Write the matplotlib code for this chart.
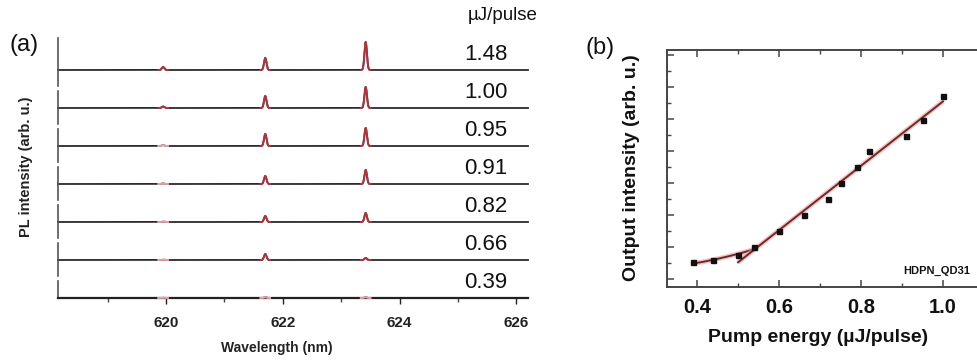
import numpy as np
import matplotlib
matplotlib.use("Agg")
import matplotlib.pyplot as plt
from matplotlib.ticker import MultipleLocator, NullFormatter

plt.rcParams['font.family'] = ['Liberation Sans', 'DejaVu Sans']

# ---------------- data ----------------
# (a) lasing spectra at several pump energies (top to bottom)
pump_labels = ["1.48", "1.00", "0.95", "0.91", "0.82", "0.66", "0.39"]
peak_positions = [619.95, 621.70, 623.42]          # nm
peak_heights = [                                    # arb. u., one row per spectrum
    [3.0, 12.0, 28.0],
    [1.5, 12.0, 21.0],
    [1.0, 12.0, 18.0],
    [0.6, 8.0, 14.0],
    [0.4, 6.0, 9.0],
    [0.3, 6.0, 2.0],
    [0.2, 0.8, 0.8],
]
peak_width = 0.021                                  # nm (gaussian sigma)
wl_ticks = [620, 622, 624, 626]

# (b) output intensity versus pump energy
pump_energy = [0.39, 0.44, 0.50, 0.54, 0.60, 0.66, 0.72, 0.75, 0.79, 0.82, 0.91, 0.95, 1.00]
output_int = [0.52, 0.60, 0.75, 1.01, 1.51, 1.99, 2.50, 2.99, 3.49, 3.99, 4.48, 4.98, 5.73]
# fits: below threshold (spontaneous) and above threshold (lasing)
below_fit_x = [0.39, 0.42, 0.45, 0.48, 0.51, 0.54]
below_fit_y = [0.48, 0.55, 0.63, 0.72, 0.82, 0.93]
above_fit_x = [0.50, 1.00]
above_fit_y = [0.52, 5.55]

# ---------------- figure ----------------
W, H = 978, 360
fig = plt.figure(figsize=(W / 100, H / 100), dpi=100)


def fy(py):
    return 1 - py / H


# panel (a): stacked strips
xa0, xa1 = 58, 528
wl_min, wl_max = 618.15, 626.2
baselines = [70 + 38 * k for k in range(7)]
wl = np.linspace(wl_min, wl_max, 8000)
trace_col = '#2b2b2b'
peak_col = '#b0323c'

for k, (lab, hts) in enumerate(zip(pump_labels, peak_heights)):
    b = baselines[k]
    top = 38 if k == 0 else b - 17
    bot = b if k == 6 else b + 16
    ax = fig.add_axes([xa0 / W, fy(bot), (xa1 - xa0) / W, (bot - top) / H])
    ax.set_xlim(wl_min, wl_max)
    ax.set_ylim(-(bot - b), b - top)
    spec = np.zeros_like(wl)
    for p, h in zip(peak_positions, hts):
        spec += h * np.exp(-0.5 * ((wl - p) / peak_width) ** 2)
    ax.plot(wl, spec, color=trace_col, lw=1.3, clip_on=False, zorder=2)
    for p, h in zip(peak_positions, hts):
        m = np.abs(wl - p) < 4 * peak_width
        col = peak_col if h >= 1.5 else '#e8a0a6'
        ax.plot(wl[m], spec[m], color=col, lw=1.4, clip_on=False, zorder=3)
    for s in ('top', 'right'):
        ax.spines[s].set_visible(False)
    ax.spines['left'].set_color('#555555')
    ax.spines['left'].set_linewidth(1.2)
    ax.set_yticks([])
    ax.patch.set_alpha(0)
    if k < 6:
        ax.spines['bottom'].set_visible(False)
        ax.set_xticks([])
    else:
        ax.spines['bottom'].set_linewidth(1.6)
        ax.spines['bottom'].set_color('#222222')
        ax.set_xticks(wl_ticks)
        ax.xaxis.set_minor_locator(MultipleLocator(1))
        ax.tick_params(axis='x', which='major', direction='out', length=4,
                       width=1.0, labelsize=11, pad=9, colors='#222222')
        ax.tick_params(axis='x', which='minor', direction='out', length=3, width=1.0,
                       colors='#444444')
        for t in ax.get_xticklabels():
            t.set_fontweight('bold')
    fig.text(486 / W, fy(b - 15), lab, ha='center', va='center', fontsize=16,
             color='#111111')

fig.text(503 / W, fy(15), "\u00b5J/pulse", ha='center', va='center', fontsize=13.5,
         color='#111111')
fig.text(24 / W, fy(45), "(a)", ha='center', va='center', fontsize=17, color='#111111')
fig.text(26 / W, fy(167), "PL intensity (arb. u.)", rotation=90, ha='center',
         va='center', fontsize=10.5, fontweight='bold', color='#222222')
fig.text(277 / W, fy(348), "Wavelength (nm)", ha='center', va='center', fontsize=10,
         fontweight='bold', color='#222222')

# panel (b)
xb_lo, xb_hi = 0.3268, 1.10
px_per_unit = 410.0
bl, bt, bb = 667, 50, 287
bw = (xb_hi - xb_lo) * px_per_unit
axb = fig.add_axes([bl / W, fy(bb), bw / W, (bb - bt) / H])
axb.set_xlim(xb_lo, xb_hi)
y_lo = -(bb - 279) / 32.0
y_hi = (279 - bt) / 32.0
axb.set_ylim(y_lo, y_hi)

axb.plot(below_fit_x, below_fit_y, color='#f0a0a0', lw=3.5, alpha=0.6,
         solid_capstyle='butt')
axb.plot(below_fit_x, below_fit_y, color='#6e2a2a', lw=1.4)
axb.plot(above_fit_x, above_fit_y, color='#f0a0a0', lw=3.5, alpha=0.6,
         solid_capstyle='butt')
axb.plot(above_fit_x, above_fit_y, color='#6e2a2a', lw=1.4)
axb.plot(pump_energy, output_int, 's', color='#111111', ms=3.6, zorder=5)

axb.spines['right'].set_visible(False)
for s in ('left', 'top', 'bottom'):
    axb.spines[s].set_linewidth(1.4)
    axb.spines[s].set_color('#444444')
axb.xaxis.set_major_locator(MultipleLocator(0.2))
axb.xaxis.set_minor_locator(MultipleLocator(0.1))
axb.yaxis.set_major_locator(MultipleLocator(1))
axb.yaxis.set_minor_locator(MultipleLocator(0.5))
axb.yaxis.set_major_formatter(NullFormatter())
axb.tick_params(axis='both', which='both', direction='in', top=True, right=False,
                colors='#444444')
axb.tick_params(axis='both', which='major', length=5, width=1.1)
axb.tick_params(axis='both', which='minor', length=3, width=1.0)
axb.tick_params(axis='x', which='major', labelsize=14.5, pad=8, labelcolor='#111111')
axb.set_xticks([0.4, 0.6, 0.8, 1.0])
axb.set_xticklabels(["0.4", "0.6", "0.8", "1.0"], fontweight='bold')
axb.patch.set_alpha(0)

fig.text(600 / W, fy(48), "(b)", ha='center', va='center', fontsize=17, color='#111111')
fig.text(632 / W, fy(168), "Output intensity (arb. u.)", rotation=90, ha='center',
         va='center', fontsize=14, fontweight='bold', color='#111111')
fig.text(818 / W, fy(337), "Pump energy (\u00b5J/pulse)", ha='center', va='center',
         fontsize=14, fontweight='bold', color='#111111')
fig.text(903 / W, fy(271), "HDPN_QD31", ha='left', va='center', fontsize=8,
         fontweight='bold', color='#111111')

fig.savefig("out.png", dpi=100)
